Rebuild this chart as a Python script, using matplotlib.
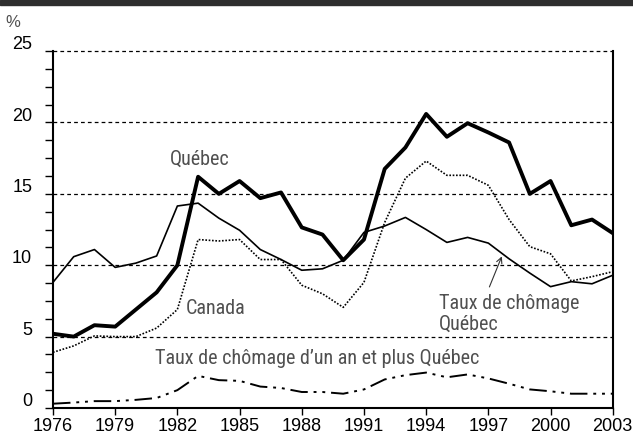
import matplotlib.pyplot as plt
import matplotlib.transforms as mtransforms
from matplotlib.ticker import MultipleLocator
from matplotlib.patches import Rectangle
from matplotlib import font_manager

years = list(range(1976, 2004))

quebec = [5.2, 5.0, 5.8, 5.7, 6.9, 8.1, 10.0, 16.2, 15.0, 15.9, 14.7, 15.1, 12.65, 12.15,
          10.35, 11.8, 16.75, 18.25, 20.6, 19.0, 19.95, 19.3, 18.6, 15.0, 15.9, 12.8, 13.2, 12.25]
canada = [3.9, 4.35, 5.05, 5.0, 5.0, 5.6, 6.9, 11.8, 11.7, 11.8, 10.4, 10.4, 8.6, 8.0,
          7.05, 8.8, 13.0, 16.1, 17.3, 16.3, 16.3, 15.6, 13.2, 11.3, 10.8, 8.9, 9.2, 9.55]
chomage_qc = [8.8, 10.6, 11.1, 9.85, 10.15, 10.65, 14.15, 14.35, 13.3, 12.45, 11.1, 10.4, 9.65, 9.75,
              10.35, 12.3, 12.75, 13.35, 12.5, 11.6, 11.95, 11.55, 10.45, 9.45, 8.5, 8.85, 8.7, 9.3]
chomage_long = [0.3, 0.38, 0.48, 0.48, 0.57, 0.7, 1.25, 2.25, 1.95, 1.9, 1.5, 1.4, 1.12, 1.12,
                1.0, 1.3, 2.0, 2.3, 2.48, 2.15, 2.35, 2.07, 1.7, 1.3, 1.17, 1.0, 1.0, 1.0]

xticks = list(range(1976, 2004, 3))
yticks = [0, 5, 10, 15, 20, 25]

# condensed face for the curve labels, if one is around
names = {f.name for f in font_manager.fontManager.ttflist}
narrow = [n for n in ['Liberation Sans Narrow', 'Roboto Condensed', 'Open Sans Condensed']
          if n in names]
label_font = narrow + ['DejaVu Sans']
label_size = 14.5 if narrow else 12
label_color = '#505050'
plt.rcParams['font.family'] = ['Liberation Sans', 'DejaVu Sans']

fig = plt.figure(figsize=(6.33, 4.37), dpi=100)
ax = fig.add_axes([0.0837, 0.0664, 0.8843, 0.8166])

# dark band along the top of the figure
fig.patches.append(Rectangle((0, 0.988), 1, 0.012, transform=fig.transFigure,
                             color='#2e2e2e', zorder=0))

for y in [5, 10, 15, 20, 25]:
    ax.axhline(y, color='black', lw=0.9, ls=(0, (3, 2.5)), zorder=1, clip_on=False)

ax.plot(years, chomage_long, color='black', lw=1.4,
        ls=(0, (9, 3, 1.5, 3, 1.5, 3)), zorder=3)
ax.plot(years, canada, color='black', lw=1.2, ls=(0, (1, 1)), zorder=3)
ax.plot(years, chomage_qc, color='black', lw=1.2, zorder=4)
ax.plot(years, quebec, color='black', lw=2.8, zorder=5)

ax.set_xlim(1976, 2003)
ax.set_ylim(0, 25)
ax.set_xticks(xticks)
ax.set_yticks(yticks)
ax.yaxis.set_minor_locator(MultipleLocator(1.25))

ax.spines['top'].set_visible(False)
for s in ['left', 'bottom', 'right']:
    ax.spines[s].set_linewidth(1.5)

ax.tick_params(axis='y', which='both', direction='out', length=6, width=1.0,
               labelsize=13, pad=9)
ax.tick_params(axis='x', direction='out', length=5, width=1.0, labelsize=13, pad=2)

shift = mtransforms.ScaledTranslation(0, 6 / 72, fig.dpi_scale_trans)
for lab in ax.get_yticklabels():
    lab.set_transform(lab.get_transform() + shift)

fig.text(0.008, 0.948, '%', fontsize=12, color=label_color, ha='left', va='center')

ax.text(1983.1, 17.4, 'Québec', fontsize=label_size, color=label_color, family=label_font,
        ha='center', va='center', fontstretch='condensed')
ax.text(1982.4, 7.0, 'Canada', fontsize=label_size, color=label_color, family=label_font,
        ha='left', va='center', fontstretch='condensed')
ax.text(1994.6, 6.6, 'Taux de chômage\nQuébec', fontsize=label_size, color=label_color,
        family=label_font, ha='left', va='center', linespacing=1.1, fontstretch='condensed')
ax.text(1980.9, 3.5, 'Taux de chômage d\u2019un an et plus Québec', fontsize=label_size,
        color=label_color, family=label_font, ha='left', va='center', fontstretch='condensed')

ax.annotate('', xy=(1997.7, 10.8), xytext=(1997.0, 8.3),
            arrowprops=dict(arrowstyle='->', color='#333333', lw=0.8))

fig.savefig('out.png', dpi=100)
